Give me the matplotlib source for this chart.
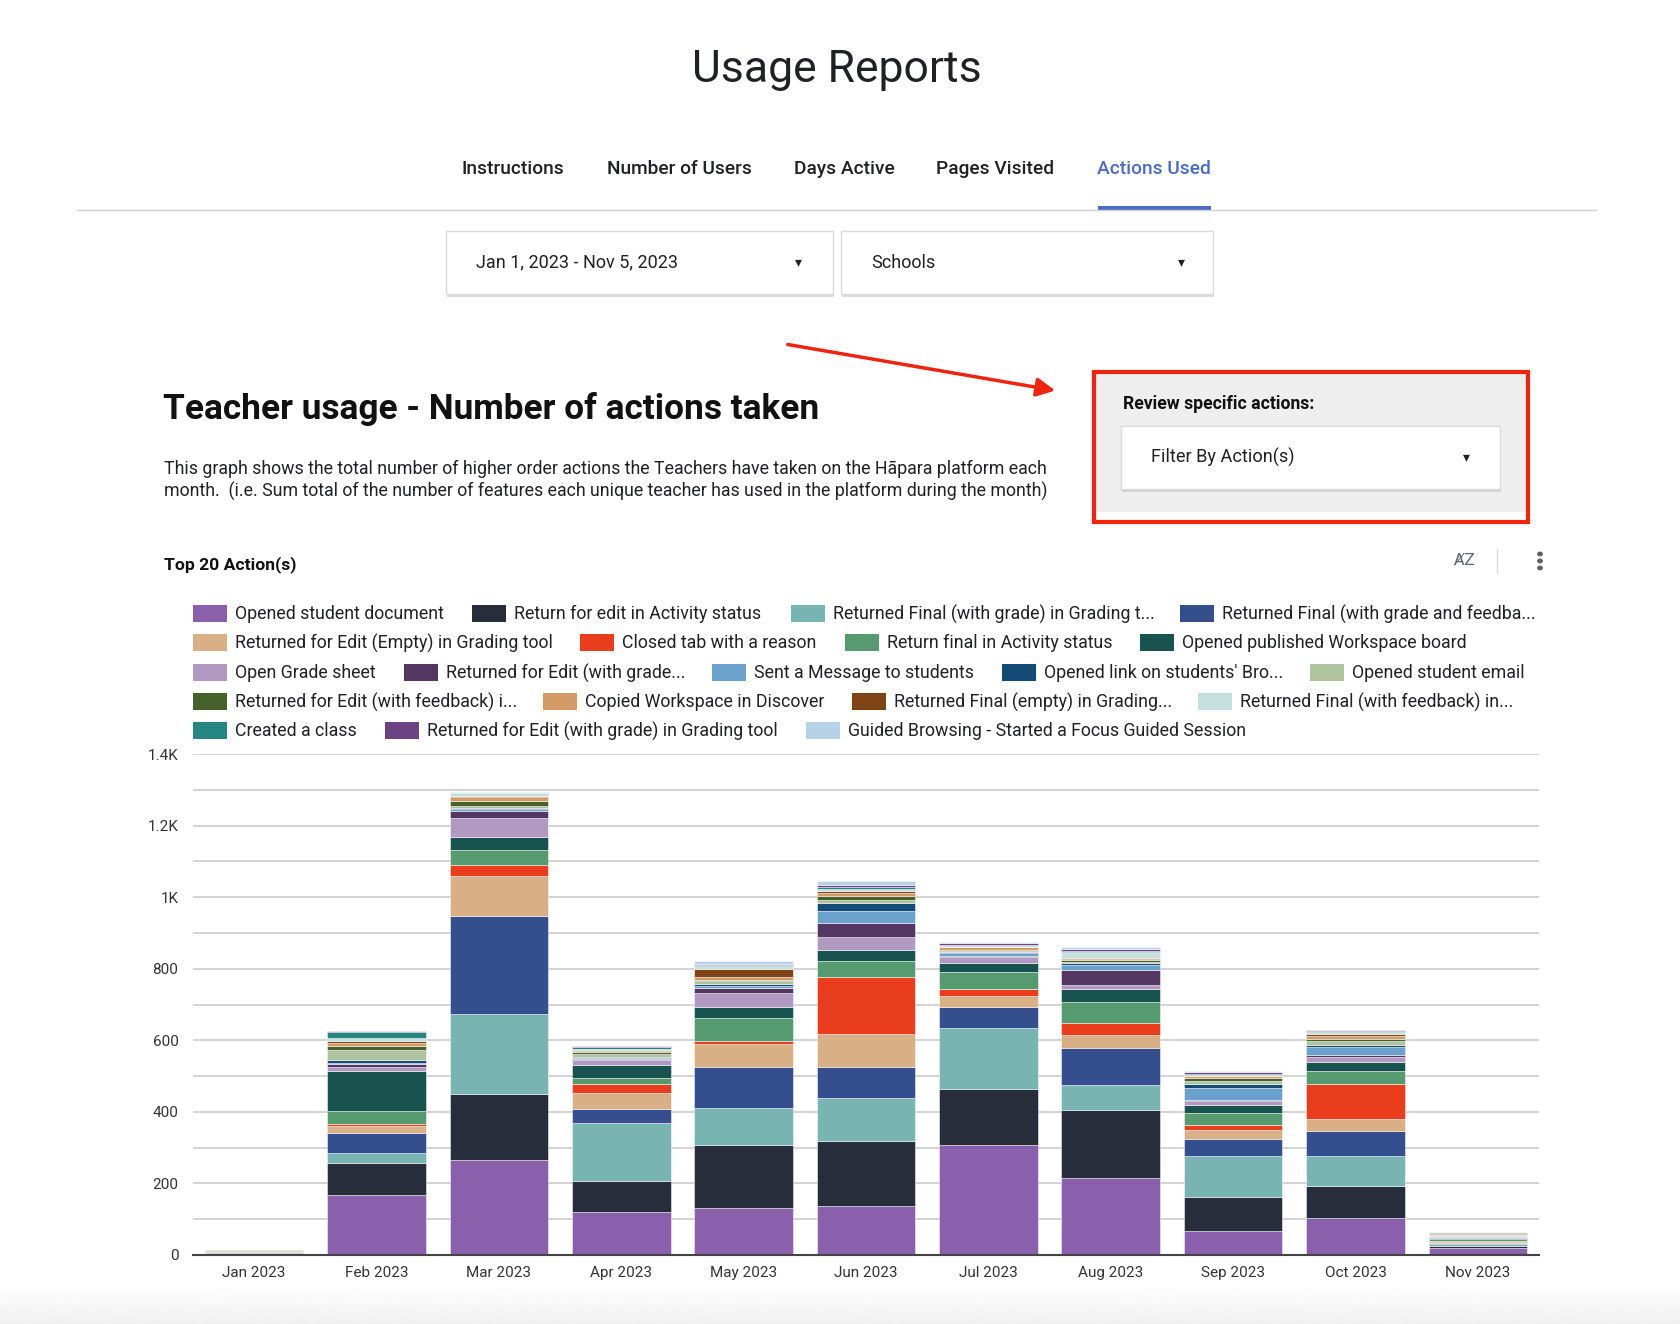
import matplotlib.pyplot as plt
import numpy as np
from matplotlib.patches import Rectangle, FancyArrowPatch, Circle
from matplotlib.ticker import FuncFormatter, MultipleLocator

plt.rcParams['font.family'] = ['Roboto', 'DejaVu Sans']

W, H = 1680, 1324

# --- data -------------------------------------------------------------
months = ['Jan 2023', 'Feb 2023', 'Mar 2023', 'Apr 2023', 'May 2023', 'Jun 2023',
          'Jul 2023', 'Aug 2023', 'Sep 2023', 'Oct 2023', 'Nov 2023']

action_labels = [
    'Opened student document', 'Return for edit in Activity status',
    'Returned Final (with grade) in Grading t...', 'Returned Final (with grade and feedba...',
    'Returned for Edit (Empty) in Grading tool', 'Closed tab with a reason',
    'Return final in Activity status', 'Opened published Workspace board',
    'Open Grade sheet', 'Returned for Edit (with grade...', 'Sent a Message to students',
    "Opened link on students' Bro...", 'Opened student email',
    'Returned for Edit (with feedback) i...', 'Copied Workspace in Discover',
    'Returned Final (empty) in Grading...', 'Returned Final (with feedback) in...',
    'Created a class', 'Returned for Edit (with grade) in Grading tool',
    'Guided Browsing - Started a Focus Guided Session',
]

opened_student_document = [3, 167, 266, 120, 131, 137, 308, 215, 67, 102, 20]
return_edit_activity = [2, 90, 184, 86, 177, 182, 156, 189, 96, 90, 6]
returned_final_grade = [3, 28, 224, 163, 103, 119, 171, 71, 113, 85, 4]
returned_final_grade_feedback = [1, 56, 273, 38, 115, 86, 59, 103, 48, 69, 3]
returned_edit_empty = [2, 19, 112, 46, 64, 93, 30, 38, 25, 35, 4]
closed_tab = [0, 5, 31, 26, 8, 161, 20, 31, 15, 98, 3]
return_final_activity = [2, 36, 41, 17, 63, 43, 47, 61, 34, 35, 4]
opened_workspace_board = [1, 112, 38, 35, 31, 31, 26, 35, 20, 26, 3]
open_grade_sheet = [0, 11, 53, 13, 39, 37, 16, 11, 12, 12, 2]
returned_edit_grade_short = [0, 9, 20, 4, 15, 39, 3, 43, 4, 8, 2]
sent_message = [0, 4, 4, 3, 5, 34, 7, 13, 34, 20, 2]
opened_link = [0, 7, 3, 2, 5, 23, 4, 5, 9, 8, 1]
opened_student_email = [1, 28, 7, 10, 9, 8, 3, 5, 9, 10, 2]
returned_edit_feedback = [0, 11, 13, 3, 3, 11, 2, 3, 8, 5, 1]
copied_workspace = [1, 10, 12, 5, 10, 8, 8, 5, 5, 10, 3]
returned_final_empty = [0, 4, 3, 2, 22, 5, 2, 3, 1, 4, 1]
returned_final_feedback = [0, 9, 5, 4, 7, 6, 3, 15, 4, 6, 1]
created_class = [0, 17, 2, 3, 3, 4, 2, 3, 3, 3, 1]
returned_edit_grade_tool = [0, 2, 1, 3, 2, 6, 5, 5, 5, 2, 1]
guided_browsing = [0, 1, 1, 1, 10, 12, 2, 7, 1, 1, 0]

series = [opened_student_document, return_edit_activity, returned_final_grade,
          returned_final_grade_feedback, returned_edit_empty, closed_tab,
          return_final_activity, opened_workspace_board, open_grade_sheet,
          returned_edit_grade_short, sent_message, opened_link, opened_student_email,
          returned_edit_feedback, copied_workspace, returned_final_empty,
          returned_final_feedback, created_class, returned_edit_grade_tool,
          guided_browsing]

colors = ['#8a60ac', '#272d3b', '#78b4b2', '#354e8e', '#d9b085', '#e93d1d',
          '#559b6f', '#19534f', '#b199c1', '#533762', '#6aa2cd', '#134a76',
          '#afc49e', '#466129', '#d49a66', '#7e4413', '#c6e0de', '#268682',
          '#6b4282', '#b7d1e6']

# legend layout (swatch left x in px, row y in px)
legend_rows = [(614, [193, 472, 791, 1180]),
               (643, [193, 580, 845, 1140]),
               (673, [193, 404, 712, 1002, 1310]),
               (702, [193, 543, 852, 1198]),
               (731, [193, 385, 806])]


def fx(x):
    return x / W


def fy(y):
    return 1 - y / H


fig = plt.figure(figsize=(W / 100, H / 100), dpi=100)
fig.patch.set_facecolor('white')

# --- page header -----------------------------------------------------
fig.text(fx(837), fy(70), 'Usage Reports', fontsize=32, ha='center', va='center',
         color='#202124')

tabs = ['Instructions', 'Number of Users', 'Days Active', 'Pages Visited', 'Actions Used']
tab_x = [513, 679, 844, 995, 1154]
for name, x in zip(tabs, tab_x):
    c = '#4a6cc6' if name == 'Actions Used' else '#202124'
    fig.text(fx(x), fy(169), name, fontsize=13.8, ha='center', va='center',
             color=c, fontweight='medium')
fig.add_artist(plt.Line2D([fx(77), fx(1596)], [fy(210), fy(210)], color='#d0d0d0', lw=1))
fig.add_artist(Rectangle((fx(1098), fy(210)), fx(113), 4 / H, color='#4a6cc6', lw=0))


def dropdown(x0, y0, x1, y1, label, arrow_x, fs=13):
    fig.add_artist(Rectangle((fx(x0 + 1), fy(y1 + 3)), fx(x1 - x0), (y1 - y0) / H,
                             facecolor='#b8b8b8', edgecolor='none', alpha=0.5))
    fig.add_artist(Rectangle((fx(x0), fy(y1)), fx(x1 - x0), (y1 - y0) / H,
                             facecolor='white', edgecolor='#dadada', lw=1))
    ym = (y0 + y1) / 2
    fig.text(fx(x0 + 30), fy(ym), label, fontsize=fs, va='center', color='#202124')
    fig.text(fx(arrow_x), fy(ym), '\u25BE', fontsize=10, va='center', ha='center',
             color='#202124', family='DejaVu Sans')


dropdown(446, 231, 833, 294, 'Jan 1, 2023 - Nov 5, 2023', 798)
dropdown(841, 231, 1213, 294, 'Schools', 1181)

# red highlight box
fig.add_artist(Rectangle((fx(1095), fy(512)), fx(431), 139 / H, facecolor='#eeeeee',
                         edgecolor='none'))
fig.add_artist(Rectangle((fx(1094), fy(522)), fx(434), 150 / H, facecolor='none',
                         edgecolor='#f0230f', lw=3))
fig.text(fx(1123), fy(404), 'Review specific actions:', fontsize=12.7, fontweight='bold',
         va='center', color='#111111')
dropdown(1121, 426, 1500, 489, 'Filter By Action(s)', 1466, fs=13.1)

fig.add_artist(FancyArrowPatch((fx(785), fy(344)), (fx(1058), fy(391)),
                               transform=fig.transFigure, arrowstyle='-|>',
                               mutation_scale=28, color='#f0230f', lw=2.5))

# chart heading and description
fig.text(fx(163), fy(409), 'Teacher usage - Number of actions taken', fontsize=25.4,
         fontweight='bold', va='center', color='#111111')
fig.text(fx(164), fy(469), 'This graph shows the total number of higher order actions '
         'the Teachers have taken on the H\u0101para platform each', fontsize=12.8,
         va='center', color='#202124')
fig.text(fx(164), fy(491), 'month.  (i.e. Sum total of the number of features each unique '
         'teacher has used in the platform during the month)', fontsize=12.8,
         va='center', color='#202124')

fig.text(fx(164), fy(565), 'Top 20 Action(s)', fontsize=12.6, fontweight='bold',
         va='center', color='#111111')
fig.text(fx(1465), fy(560), 'A\u0338Z', fontsize=11, va='center', ha='center',
         color='#5f6368', family='DejaVu Sans')
fig.add_artist(plt.Line2D([fx(1497), fx(1497)], [fy(549), fy(573)], color='#dadada', lw=1))
for dy in (-7, 0, 7):
    fig.add_artist(Circle((fx(1540), fy(561 + dy)), 2.2 / W, color='#5f6368',
                          transform=fig.transFigure))

# legend
k = 0
for ry, xs in legend_rows:
    for x in xs:
        fig.add_artist(Rectangle((fx(x), fy(ry + 8)), 34 / W, 17 / H,
                                 facecolor=colors[k], edgecolor='none'))
        fig.text(fx(x + 42), fy(ry), action_labels[k], fontsize=12.8, va='center',
                 color='#202124')
        k += 1

# --- stacked bars ----------------------------------------------------
ax = fig.add_axes([fx(193), fy(1255), (1539 - 193) / W, (1255 - 754) / H])
x = np.arange(len(months))
bottom = np.zeros(len(months))
for vals, col, lab in zip(series, colors, action_labels):
    ax.bar(x, vals, bottom=bottom, width=0.806, color=col, edgecolor='#ffffffb0',
           linewidth=0.5, label=lab)
    bottom += np.array(vals)

ax.set_xlim(-0.5, len(months) - 0.5)
ax.set_ylim(0, 1400)
ax.yaxis.set_major_locator(MultipleLocator(200))
ax.yaxis.set_minor_locator(MultipleLocator(100))
ax.yaxis.set_major_formatter(FuncFormatter(
    lambda v, p: '0' if v == 0 else (f'{v / 1000:g}K' if v >= 1000 else f'{v:.0f}')))
ax.grid(axis='y', which='both', color='#cccccc', lw=1.2)
ax.set_axisbelow(True)
for s in ['top', 'right', 'left']:
    ax.spines[s].set_visible(False)
ax.spines['bottom'].set_color('#444444')
ax.spines['bottom'].set_linewidth(1.5)
ax.set_xticks(x)
ax.set_xticklabels(months)
ax.tick_params(axis='both', which='both', length=0, labelsize=11, colors='#333333')
ax.tick_params(axis='y', pad=10.5)
ax.tick_params(axis='x', pad=8)

# faint gradient at bottom of page
gax = fig.add_axes([0, 0, 1, 40 / H])
gax.imshow(np.linspace(1, 0.94, 50).reshape(-1, 1), aspect='auto', cmap='gray',
           vmin=0, vmax=1, extent=[0, 1, 0, 1])
gax.axis('off')

fig.savefig('out.png', dpi=100)
